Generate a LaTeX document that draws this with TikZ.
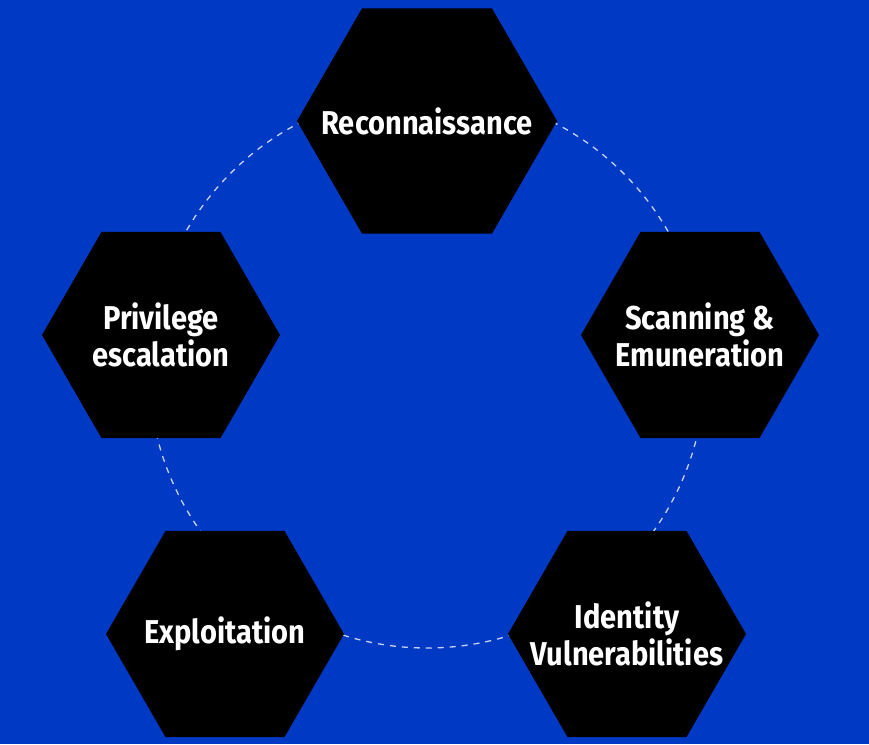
\documentclass[tikz,border=0pt]{standalone}
\usepackage{fontspec}
\setmainfont[FakeStretch=0.88]{Fira Sans}
\usetikzlibrary{shapes.geometric}
\definecolor{bgblue}{HTML}{0039C4}
\definecolor{dashc}{HTML}{C8D2F0}
\tikzset{
  hexa/.style={regular polygon, regular polygon sides=6, fill=black, draw=none,
    minimum size=238pt, inner sep=0pt},
  lbl/.style={text=white, align=center, inner sep=0pt,
    font=\fontsize{33}{37}\selectfont\bfseries},
  ring/.style={draw=dashc, line width=1.3pt, dash pattern=on 6pt off 6pt}
}
\begin{document}
\begin{tikzpicture}[x=1pt,y=-1pt]
\fill[bgblue] (0,0) rectangle (869,744);
\useasboundingbox (0,0) rectangle (869,744);
\draw[ring] (427,370) circle[radius=278];
\node[hexa, minimum size=260pt] (rec) at (427,121) {};
\node[hexa] (scan) at (700,335) {};
\node[hexa] (idv) at (627,634) {};
\node[hexa] (exp) at (225,634) {};
\node[hexa] (priv) at (161,335) {};
\node[lbl] (recT) at (rec.center) {Reconnaissance};
\node[lbl] (scanT) at (scan.center) {Scanning \&\\Emuneration};
\node[lbl] (idvT) at (idv.center) {Identity\\Vulnerabilities};
\node[lbl] (expT) at (exp.center) {Exploitation};
\node[lbl] (privT) at (priv.center) {Privilege\\escalation};
\end{tikzpicture}
\end{document}
